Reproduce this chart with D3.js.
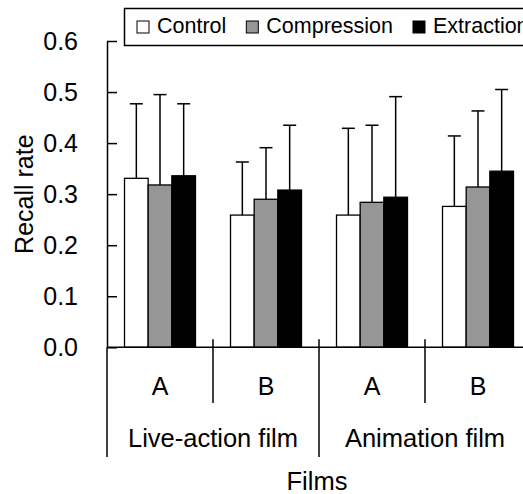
<!DOCTYPE html>
<html>
<head>
<meta charset="utf-8">
<script src="https://cdn.jsdelivr.net/npm/d3@7"></script>
<style>
  body { margin: 0; background: #fff; }
  text { font-family: "Liberation Sans", Arial, sans-serif; fill: #000; }
</style>
</head>
<body>
<svg width="523" height="494"></svg>
<script>
// data
const films = ['Live-action film', 'Animation film']
const clips = ['A', 'B']
const series = ['Control', 'Compression', 'Extraction']
const control = [0.331, 0.259, 0.259, 0.276]
const compression = [0.318, 0.290, 0.284, 0.314]
const extraction = [0.336, 0.308, 0.294, 0.345]
const controlSD = [0.146, 0.104, 0.170, 0.138]
const compressionSD = [0.177, 0.101, 0.151, 0.149]
const extractionSD = [0.141, 0.127, 0.197, 0.160]
const yTicks = [0, 0.1, 0.2, 0.3, 0.4, 0.5, 0.6]

const colors = { Control: '#ffffff', Compression: '#969696', Extraction: '#000000' }
const means = { Control: control, Compression: compression, Extraction: extraction }
const sds = { Control: controlSD, Compression: compressionSD, Extraction: extractionSD }

// one key per film/clip cell
const cells = []
films.forEach(f => clips.forEach(c => cells.push(f + '|' + c)))

const svg = d3.select('svg')
const mLeft = 107, mRight = 531, mTop = 41, mBottom = 347.3

const x = d3.scaleBand().domain(cells).range([mLeft, mRight])
const xs = d3.scaleBand().domain(series).range([0, x.bandwidth()]).paddingOuter(0.74)
const y = d3.scaleLinear().domain([0, 0.6]).range([mBottom, mTop])

// bars
const rows = []
cells.forEach((cell, i) => series.forEach(s => rows.push({ cell, s, v: means[s][i], sd: sds[s][i] })))

const bars = svg.append('g')
bars.selectAll('rect')
  .data(rows)
  .join('rect')
  .attr('x', d => x(d.cell) + xs(d.s))
  .attr('y', d => y(d.v))
  .attr('width', xs.bandwidth())
  .attr('height', d => y(0) - y(d.v))
  .attr('fill', d => colors[d.s])
  .attr('stroke', '#000')
  .attr('stroke-width', 1.3)

// error bars (upper half only)
const err = svg.append('g').attr('stroke', '#000').attr('stroke-width', 1.5)
err.selectAll('line.stem')
  .data(rows)
  .join('line')
  .classed('stem', true)
  .attr('x1', d => x(d.cell) + xs(d.s) + xs.bandwidth() / 2)
  .attr('x2', d => x(d.cell) + xs(d.s) + xs.bandwidth() / 2)
  .attr('y1', d => y(d.v))
  .attr('y2', d => y(d.v + d.sd))
err.selectAll('line.cap')
  .data(rows)
  .join('line')
  .classed('cap', true)
  .attr('x1', d => x(d.cell) + xs(d.s) + xs.bandwidth() / 2 - 6.5)
  .attr('x2', d => x(d.cell) + xs(d.s) + xs.bandwidth() / 2 + 6.5)
  .attr('y1', d => y(d.v + d.sd))
  .attr('y2', d => y(d.v + d.sd))

// y axis
const yAxis = d3.axisLeft(y)
  .tickValues(yTicks)
  .tickFormat(d3.format('.1f'))
  .tickSizeInner(-10)
  .tickSizeOuter(0)
  .tickPadding(29)

svg.append('g')
  .attr('transform', `translate(${mLeft},0)`)
  .call(yAxis)
  .call(g => g.selectAll('path, line').attr('stroke-width', 1.5))
  .call(g => g.selectAll('text').attr('font-size', 25).attr('font-family', '"Liberation Sans", Arial, sans-serif'))

svg.append('text')
  .attr('transform', `translate(33,${(mTop + mBottom) / 2}) rotate(-90)`)
  .attr('text-anchor', 'middle')
  .attr('font-size', 25)
  .text('Recall rate')

// x axis: baseline + category separators
const axisG = svg.append('g').attr('stroke', '#000').attr('stroke-width', 1.5)
axisG.append('line')
  .attr('x1', mLeft).attr('x2', mRight)
  .attr('y1', y(0)).attr('y2', y(0))

const seps = cells.map(c => x(c)).concat([mRight])
axisG.selectAll('line.sep')
  .data(seps)
  .join('line')
  .classed('sep', true)
  .attr('x1', d => d).attr('x2', d => d)
  .attr('y1', (d, i) => i === 0 ? y(0) : y(0) - 8)
  .attr('y2', (d, i) => i % 2 === 0 ? 457 : 403)

svg.append('g')
  .selectAll('text')
  .data(cells)
  .join('text')
  .attr('x', d => x(d) + x.bandwidth() / 2)
  .attr('y', 395)
  .attr('text-anchor', 'middle')
  .attr('font-size', 25)
  .text(d => d.split('|')[1])

svg.append('g')
  .selectAll('text')
  .data(films)
  .join('text')
  .attr('x', d => x(d + '|' + clips[0]) + x.bandwidth())
  .attr('y', 447)
  .attr('text-anchor', 'middle')
  .attr('font-size', 25.5)
  .text(d => d)

svg.append('text')
  .attr('x', (mLeft + mRight) / 2 - 2)
  .attr('y', 490)
  .attr('text-anchor', 'middle')
  .attr('font-size', 25.5)
  .text('Films')

// legend
const legend = svg.append('g')
legend.append('rect')
  .attr('x', 124.5).attr('y', 8.5)
  .attr('width', 420).attr('height', 37)
  .attr('fill', '#fff')
  .attr('stroke', '#000')
  .attr('stroke-width', 1.5)

let cx = 137
series.forEach(s => {
  legend.append('rect')
    .attr('x', cx).attr('y', 21)
    .attr('width', 12).attr('height', 12)
    .attr('fill', colors[s])
    .attr('stroke', '#000')
    .attr('stroke-width', 1)
  const t = legend.append('text')
    .attr('x', cx + 20)
    .attr('y', 32.5)
    .attr('font-size', 21.5)
    .text(s)
  cx += 20 + t.node().getComputedTextLength() + 20
})
</script>
</body>
</html>
